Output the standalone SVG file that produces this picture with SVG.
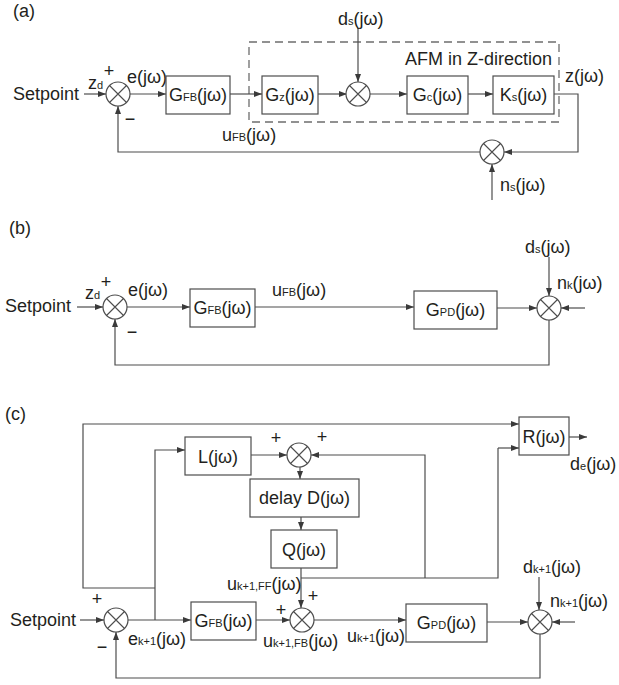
<svg xmlns="http://www.w3.org/2000/svg" width="619" height="685" viewBox="0 0 619 685">
<defs>
<style>
text{font-family:"Liberation Sans",Arial,sans-serif;font-size:18px;fill:#231f20}
.s{font-size:11px}
.m{text-anchor:middle}
.box{fill:#fff;stroke:#4d4d4d;stroke-width:1.2}
.sum{fill:#fff;stroke:#4d4d4d;stroke-width:1.2}
.x{stroke:#4d4d4d;stroke-width:1.1;fill:none}
.ln{fill:none;stroke:#4d4d4d;stroke-width:1.2}
.ar{fill:none;stroke:#4d4d4d;stroke-width:1.2;marker-end:url(#ah)}
.dash{fill:none;stroke:#6d6d6d;stroke-width:1.3;stroke-dasharray:8 5}
</style>
<marker id="ah" viewBox="0 0 8 6" refX="8" refY="3" markerWidth="8" markerHeight="6" markerUnits="userSpaceOnUse" orient="auto">
<path d="M0,0 L8,3 L0,6 z" fill="#3a3a3a"/>
</marker>
<g id="cross"><circle class="sum" r="12"/><path class="x" d="M-8.5,-8.5 L8.5,8.5 M-8.5,8.5 L8.5,-8.5"/></g>
</defs>

<!-- ===== Panel (a) ===== -->
<text x="13" y="17">(a)</text>
<g id="a-afm-frame"><rect class="dash" x="249" y="42" width="310" height="80"/><text x="405" y="65">AFM in Z-direction</text></g>
<g id="a-connectors">
<path class="ar" d="M84,94 H106"/>
<path class="ar" d="M130,94 H166"/>
<path class="ar" d="M230,94 H262"/>
<path class="ar" d="M318,94 H347"/>
<path class="ar" d="M358,28 V82"/>
<path class="ar" d="M370,94 H407"/>
<path class="ar" d="M468,94 H493"/>
<path class="ar" d="M554,94 H578 V152 H504"/>
<path class="ar" d="M492,200 V164"/>
<path class="ar" d="M480,152 H118 V106"/>
</g>
<g id="a-setpoint"><text x="13" y="100">Setpoint</text><text x="88" y="89">z<tspan class="s">d</tspan></text></g>
<g id="a-sum1"><use href="#cross" x="118" y="94"/><text class="m" x="109" y="77">+</text><text class="m" x="130" y="125">−</text><text x="127" y="83">e(jω)</text></g>
<g id="a-gfb"><rect class="box" x="166" y="76" width="64" height="38"/><text class="m" x="198" y="101">G<tspan class="s">FB</tspan>(jω)</text></g>
<text x="222" y="141">u<tspan class="s">FB</tspan>(jω)</text>
<g id="a-gz"><rect class="box" x="262" y="76" width="56" height="38"/><text class="m" x="290" y="101">G<tspan class="s">z</tspan>(jω)</text></g>
<g id="a-sum2"><use href="#cross" x="358" y="94"/><text x="338" y="25">d<tspan class="s">s</tspan>(jω)</text></g>
<g id="a-gc"><rect class="box" x="407" y="76" width="61" height="38"/><text class="m" x="437.5" y="101">G<tspan class="s">c</tspan>(jω)</text></g>
<g id="a-ks"><rect class="box" x="493" y="76" width="61" height="38"/><text class="m" x="523.5" y="101">K<tspan class="s">s</tspan>(jω)</text></g>
<text x="565" y="82">z(jω)</text>
<g id="a-sum3"><use href="#cross" x="492" y="152"/><text x="500" y="191">n<tspan class="s">s</tspan>(jω)</text></g>

<!-- ===== Panel (b) ===== -->
<text x="9" y="234">(b)</text>
<g id="b-connectors">
<path class="ar" d="M77,307 H103"/>
<path class="ar" d="M127,307 H190"/>
<path class="ar" d="M255,307 H414"/>
<path class="ar" d="M497,308 H537"/>
<path class="ar" d="M549,257 V296"/>
<path class="ar" d="M585,308 H561"/>
<path class="ar" d="M549,320 V365 H115 V319"/>
</g>
<g id="b-setpoint"><text x="5" y="312">Setpoint</text><text x="85" y="299">z<tspan class="s">d</tspan></text></g>
<g id="b-sum1"><use href="#cross" x="115" y="307"/><text class="m" x="106" y="288">+</text><text class="m" x="132" y="338">−</text><text x="128" y="296">e(jω)</text></g>
<g id="b-gfb"><rect class="box" x="190" y="289" width="65" height="38"/><text class="m" x="222.5" y="314">G<tspan class="s">FB</tspan>(jω)</text></g>
<text x="272" y="296">u<tspan class="s">FB</tspan>(jω)</text>
<g id="b-gpd"><rect class="box" x="414" y="291" width="83" height="38"/><text class="m" x="455.5" y="316">G<tspan class="s">PD</tspan>(jω)</text></g>
<g id="b-sum2"><use href="#cross" x="549" y="308"/><text x="525" y="253">d<tspan class="s">s</tspan>(jω)</text><text x="557" y="289">n<tspan class="s">k</tspan>(jω)</text></g>

<!-- ===== Panel (c) ===== -->
<text x="5" y="420">(c)</text>
<g id="c-connectors">
<path class="ar" d="M80,620 H104"/>
<path class="ar" d="M128,620 H191"/>
<path class="ar" d="M155,620 V450 H185"/>
<path class="ar" d="M155,588 H83 V424 H519"/>
<path class="ar" d="M251,455 H287"/>
<path class="ar" d="M425,578 V455 H311"/>
<path class="ar" d="M300,467 V479"/>
<path class="ar" d="M301,517 V530"/>
<path class="ar" d="M301,568 V608"/>
<path class="ln" d="M301,578 H498 V448"/>
<path class="ar" d="M498,448 H519"/>
<path class="ar" d="M569,437 H587"/>
<path class="ar" d="M256,620 H290"/>
<path class="ar" d="M314,620 H406"/>
<path class="ar" d="M487,622 H528"/>
<path class="ar" d="M539,577 V610"/>
<path class="ar" d="M575,622 H552"/>
<path class="ar" d="M540,634 V678 H116 V632"/>
</g>
<g id="c-setpoint"><text x="10" y="626">Setpoint</text></g>
<g id="c-sum1"><use href="#cross" x="116" y="620"/><text class="m" x="97" y="605">+</text><text class="m" x="102" y="653">−</text><text x="128" y="645">e<tspan class="s">k+1</tspan>(jω)</text></g>
<g id="c-l"><rect class="box" x="185" y="437" width="66" height="38"/><text class="m" x="218" y="463">L(jω)</text></g>
<g id="c-sum2"><use href="#cross" x="299" y="455"/><text class="m" x="276" y="444">+</text><text class="m" x="322" y="443">+</text></g>
<g id="c-delay"><rect class="box" x="250" y="479" width="109" height="38"/><text class="m" x="304.5" y="504">delay D(jω)</text></g>
<g id="c-q"><rect class="box" x="271" y="530" width="66" height="38"/><text class="m" x="304" y="556">Q(jω)</text></g>
<g id="c-r"><rect class="box" x="519" y="417" width="50" height="38"/><text class="m" x="544" y="443">R(jω)</text><text x="570" y="470">d<tspan class="s">e</tspan>(jω)</text></g>
<g id="c-gfb"><rect class="box" x="191" y="602" width="65" height="38"/><text class="m" x="223.5" y="627">G<tspan class="s">FB</tspan>(jω)</text></g>
<g id="c-sum3"><use href="#cross" x="302" y="620"/><text class="m" x="281" y="616">+</text><text class="m" x="313" y="602">+</text>
<text x="227" y="590">u<tspan class="s">k+1,FF</tspan>(jω)</text><text x="263" y="647">u<tspan class="s">k+1,FB</tspan>(jω)</text></g>
<text x="347" y="642">u<tspan class="s">k+1</tspan>(jω)</text>
<g id="c-gpd"><rect class="box" x="406" y="604" width="81" height="38"/><text class="m" x="446.5" y="629">G<tspan class="s">PD</tspan>(jω)</text></g>
<g id="c-sum4"><use href="#cross" x="540" y="622"/><text x="523" y="573">d<tspan class="s">k+1</tspan>(jω)</text><text x="550" y="607">n<tspan class="s">k+1</tspan>(jω)</text></g>
</svg>
